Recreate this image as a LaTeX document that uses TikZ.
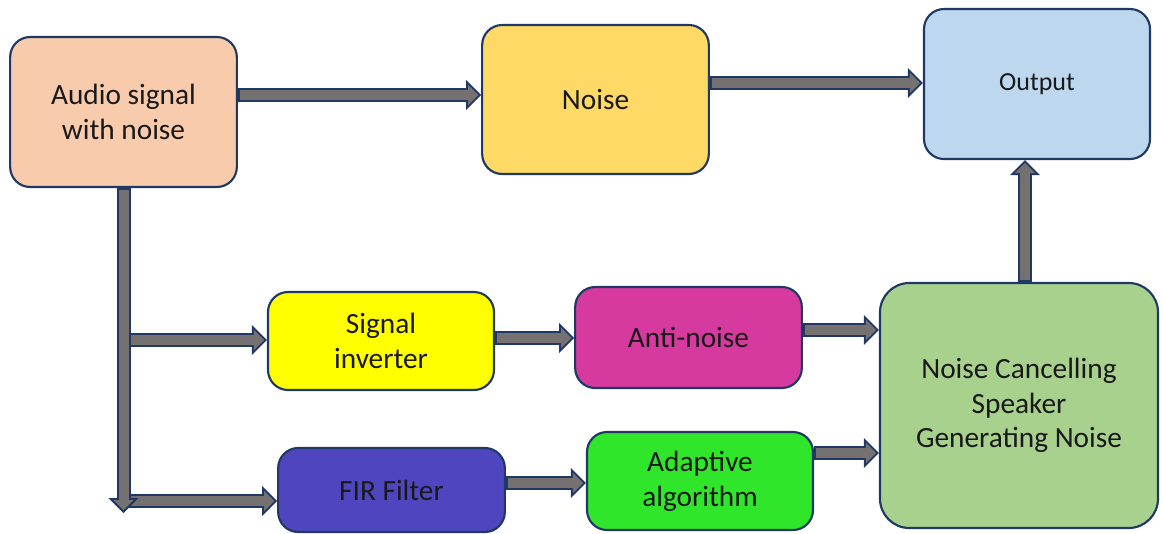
\documentclass[tikz,border=0pt]{standalone}
\usepackage{fontspec}
\setmainfont{Carlito}
\usetikzlibrary{arrows.meta}
\usetikzlibrary{positioning}
\definecolor{boxline}{HTML}{1F3864}
\definecolor{arrowgray}{HTML}{767171}
\definecolor{audiofill}{HTML}{F8CBAD}
\definecolor{noisefill}{HTML}{FFD966}
\definecolor{outfill}{HTML}{BDD7EE}
\definecolor{invfill}{HTML}{FFFF00}
\definecolor{antifill}{HTML}{D63A9E}
\definecolor{ncsfill}{HTML}{A9D18E}
\definecolor{firfill}{HTML}{4F46BF}
\definecolor{adaptfill}{HTML}{30E62A}
\tikzset{
	% boxes
	block/.style={draw=boxline, line width=1.6pt, rounded corners=15pt, align=center,
		inner sep=0pt, text=black!90, font=\fontsize{22}{26}\selectfont},
	% fat outlined arrows
	flow/.style={draw=boxline, line width=10.5pt,
		-{Triangle[length=11.25pt,width=22.5pt,line width=0pt]},
		postaction={draw=arrowgray, line width=7.5pt, shorten <=1.5pt, shorten >=2.1pt,
			-{Triangle[length=7.65pt,width=15.3pt,line width=0pt]}}},
}

\begin{document}
\begin{tikzpicture}[x=0.75pt,y=-0.75pt]
	\useasboundingbox (0,0) rectangle (1163,533);
	
	\node[block, fill=audiofill, minimum width=170pt, minimum height=112.5pt] (audio) at (123.5,112) {Audio signal\\with noise};
	\node[block, fill=noisefill, minimum width=170pt, minimum height=111.75pt] (noise) at (595.5,99.5) {Noise};
	\node[block, fill=outfill, minimum width=169.5pt, minimum height=112.5pt, font=\fontsize{19.5}{23}\selectfont] (output) at (1037,84) {Output};
	\node[block, fill=invfill, minimum width=169.5pt, minimum height=73.5pt] (inv) at (381,341) {Signal\\inverter};
	\node[block, fill=antifill, minimum width=170pt, minimum height=75.75pt] (anti) at (688.5,337.5) {Anti-noise};
	\node[block, fill=ncsfill, minimum width=208.5pt, minimum height=183.75pt, rounded corners=22pt] (ncs) at (1019,405.5) {Noise Cancelling\\Speaker\\Generating Noise};
	\node[block, fill=firfill, minimum width=170pt, minimum height=63pt] (fir) at (391.5,490) {FIR Filter};
	\node[block, fill=adaptfill, minimum width=169.5pt, minimum height=73.5pt] (adapt) at (700,481) {Adaptive\\algorithm};
	
	\coordinate (split) at (123.5,513);
	
	\draw[flow] (audio.east |- 0,95) -- (noise.west |- 0,95);
	\draw[flow] (noise.east |- 0,83) -- (output.west |- 0,83);
	\draw[flow] (split |- 0,340) -- (inv.west |- 0,340);
	\draw[flow] (split |- 0,501) -- (fir.west |- 0,501);
	\draw[flow] (audio.south) -- (split);
	\draw[flow] (inv.east |- 0,338) -- (anti.west |- 0,338);
	\draw[flow] (anti.east |- 0,330) -- (ncs.west |- 0,330);
	\draw[flow] (fir.east |- 0,483) -- (adapt.west |- 0,483);
	\draw[flow] (adapt.east |- 0,453) -- (ncs.west |- 0,453);
	\draw[flow] (ncs.north -| 1025,0) -- (output.south -| 1025,0);
	
\end{tikzpicture}
\end{document}
